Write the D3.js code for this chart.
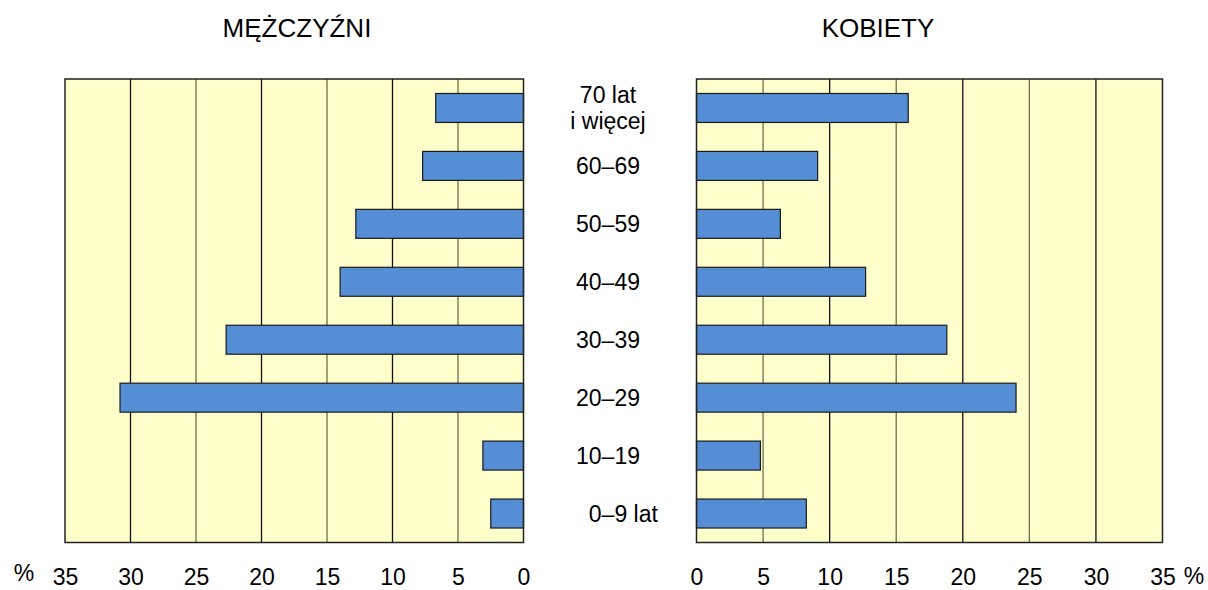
<!DOCTYPE html>
<html>
<head>
<meta charset="utf-8">
<script src="https://cdn.jsdelivr.net/npm/d3@7"></script>
<style>
  body { margin: 0; background: #fff; }
  text { font-family: "Liberation Sans", Arial, sans-serif; fill: #000; }
</style>
</head>
<body>
<div id="chart"></div>
<script>
var width = 1208;
var height = 590;

// age groups, top to bottom
var ageGroups = ["70+", "60-69", "50-59", "40-49", "30-39", "20-29", "10-19", "0-9"];
var ageLabels = [["70 lat", "i więcej"], ["60–69"], ["50–59"], ["40–49"], ["30–39"], ["20–29"], ["10–19"], ["0–9"]];
var ageSuffix = ["", "", "", "", "", "", "", " lat"];
var men = [6.7, 7.7, 12.8, 14.0, 22.7, 30.8, 3.1, 2.5];
var women = [15.9, 9.1, 6.3, 12.7, 18.8, 24.0, 4.8, 8.25];
var ticks = [0, 5, 10, 15, 20, 25, 30, 35];

var plotTop = 79, plotBottom = 542.5;
var labelX = 608;

var svg = d3.select("#chart").append("svg")
    .attr("width", width)
    .attr("height", height);

var y = d3.scaleBand()
    .domain(ageGroups)
    .range([plotTop, plotBottom])
    .paddingInner(0.5)
    .paddingOuter(0.25);

var xMen = d3.scaleLinear().domain([0, 35]).range([523.5, 65]);
var xWomen = d3.scaleLinear().domain([0, 35]).range([696.5, 1162.5]);

function drawPanel(x, values, title, titleX) {
    var g = svg.append("g");
    var left = Math.min(x(0), x(35)), w = Math.abs(x(35) - x(0));

    // background
    g.append("rect")
        .attr("x", left)
        .attr("y", plotTop)
        .attr("width", w)
        .attr("height", plotBottom - plotTop)
        .attr("fill", "#ffffcc");

    // gridlines
    g.selectAll(".grid")
        .data(ticks.slice(1, -1))
        .enter().append("line")
        .attr("x1", d => x(d)).attr("x2", d => x(d))
        .attr("y1", plotTop).attr("y2", plotBottom)
        .attr("stroke", d => d % 10 === 0 ? "#111" : "#6e6e50")
        .attr("stroke-width", 1.3);

    // bars
    g.selectAll(".bar")
        .data(values)
        .enter().append("rect")
        .attr("x", d => Math.min(x(0), x(d)))
        .attr("y", (d, i) => y(ageGroups[i]))
        .attr("width", d => Math.abs(x(d) - x(0)))
        .attr("height", y.bandwidth())
        .attr("fill", "#558ed5")
        .attr("stroke", "#1a1a1a")
        .attr("stroke-width", 1.2);

    // frame
    g.append("rect")
        .attr("x", left)
        .attr("y", plotTop)
        .attr("width", w)
        .attr("height", plotBottom - plotTop)
        .attr("fill", "none")
        .attr("stroke", "#222")
        .attr("stroke-width", 1.5);

    // axis labels
    var axis = d3.axisBottom(x).tickValues(ticks).tickSize(0).tickPadding(0);
    var ax = g.append("g")
        .attr("transform", "translate(0,585)")
        .call(axis);
    ax.select(".domain").remove();
    ax.selectAll("text")
        .style("font-family", "'Liberation Sans', Arial, sans-serif")
        .style("font-size", "23px")
        .attr("fill", "#000")
        .attr("dy", 0);

    // title
    svg.append("text")
        .attr("x", titleX)
        .attr("y", 37)
        .attr("text-anchor", "middle")
        .style("font-size", "26px")
        .text(title);
}

drawPanel(xMen, men, "MĘŻCZYŹNI", 297);
drawPanel(xWomen, women, "KOBIETY", 878);

// percent signs
svg.append("text").attr("x", 24).attr("y", 581).attr("text-anchor", "middle")
    .style("font-size", "23px").text("%");
svg.append("text").attr("x", 1194).attr("y", 584).attr("text-anchor", "middle")
    .style("font-size", "23px").text("%");

// centre age labels
var lbl = svg.selectAll(".age")
    .data(ageLabels)
    .enter().append("text")
    .attr("class", "age")
    .attr("x", labelX)
    .attr("text-anchor", "middle")
    .style("font-size", "23px")
    .attr("y", (d, i) => y(ageGroups[i]) + y.bandwidth() / 2 - (d.length - 1) * 13.3 + 8);

lbl.selectAll("tspan")
    .data(d => d)
    .enter().append("tspan")
    .attr("x", labelX)
    .attr("dy", (d, i) => i === 0 ? 0 : 26.6)
    .text(d => d);

// trailing word kept outside the centred part (e.g. "0–9 lat")
lbl.each(function (d, i) {
    if (!ageSuffix[i]) return;
    var len = this.getComputedTextLength();
    svg.append("text")
        .attr("x", labelX + len / 2)
        .attr("y", d3.select(this).attr("y"))
        .attr("xml:space", "preserve")
        .style("white-space", "pre")
        .style("font-size", "23px")
        .text(ageSuffix[i]);
});
</script>
</body>
</html>
